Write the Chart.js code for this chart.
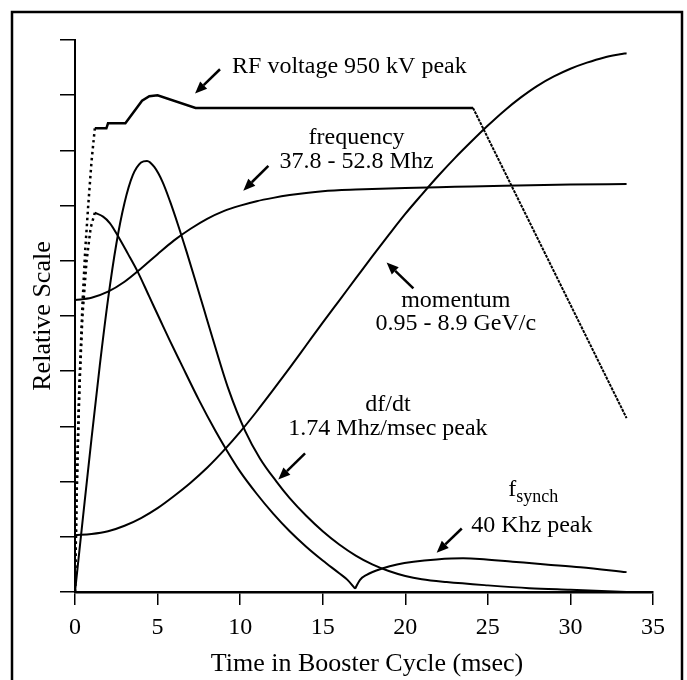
<!DOCTYPE html>
<html>
<head>
<meta charset="utf-8">
<script src="https://cdn.jsdelivr.net/npm/chart.js@4.4.1/dist/chart.umd.min.js"></script>
<style>
  html, body { margin: 0; padding: 0; background: #fff; }
  canvas { display: block; }
</style>
</head>
<body>
<canvas id="myChart" width="687" height="680"></canvas>
<script>
// time in msec, relative scale 0 - 10
const xTicks = [0, 5, 10, 15, 20, 25, 30, 35];
const yTicks = [0, 1, 2, 3, 4, 5, 6, 7, 8, 9, 10];

const rfT = [0, 0.08, 0.18, 0.3, 0.45, 0.62, 0.8, 1.0, 1.2, 1.9, 2.0, 3.05, 4.06, 4.5, 5.0, 7.3, 24.1, 33.4];
const rfV = [0, 1.5, 2.8, 4.0, 5.2, 6.2, 7.0, 7.8, 8.4, 8.4, 8.49, 8.49, 8.9, 8.98, 9.0, 8.77, 8.77, 3.15];

const freqT = [0, 1, 2, 3, 4, 5, 6, 7, 8, 9, 10, 11, 12, 13, 14, 15, 17, 20, 23, 26, 30, 33.4];
const freqV = [5.29, 5.33, 5.44, 5.62, 5.86, 6.12, 6.37, 6.58, 6.76, 6.9, 7.0, 7.08, 7.14, 7.19, 7.23, 7.26, 7.29, 7.32, 7.34, 7.36, 7.38, 7.39];

const momT = [0, 1, 2, 3, 4, 5, 6, 7, 8, 9, 10, 11, 12, 13, 14, 15, 16, 17, 18, 19, 20, 21, 22, 23, 24, 25, 26, 27, 28, 29, 30, 31, 32, 33, 33.4];
const momV = [1.03, 1.05, 1.1, 1.2, 1.34, 1.52, 1.74, 1.98, 2.25, 2.56, 2.9, 3.27, 3.66, 4.06, 4.47, 4.88, 5.28, 5.68, 6.08, 6.47, 6.85, 7.2, 7.54, 7.86, 8.16, 8.45, 8.72, 8.96, 9.17, 9.34, 9.48, 9.59, 9.68, 9.74, 9.76];

const dfdtT = [0, 0.5, 1.0, 1.5, 2.0, 2.5, 3.0, 3.5, 4.0, 4.36, 4.8, 5.3, 5.75, 6.25, 6.75, 7.25, 7.8, 8.36, 9.3, 10.3, 11.2, 12.2, 13, 14, 15, 16, 17, 18, 19, 20, 21, 22.5, 25, 27.5, 30, 33.4];
const dfdtV = [0, 1.4, 2.78, 4.1, 5.3, 6.3, 7.05, 7.55, 7.78, 7.81, 7.7, 7.43, 7.08, 6.64, 6.17, 5.68, 5.13, 4.57, 3.67, 2.92, 2.42, 2.0, 1.7, 1.38, 1.1, 0.86, 0.66, 0.5, 0.38, 0.29, 0.23, 0.18, 0.12, 0.07, 0.04, 0.0];

// f synch in three pieces: dotted rise, fall to transition, after transition
const fsRiseT = [0, 0.1, 0.25, 0.45, 0.7, 0.95, 1.2];
const fsRiseV = [0, 1.8, 3.6, 5.0, 6.0, 6.6, 6.87];
const fsFallT = [1.2, 1.7, 2.12, 2.6, 3.2, 3.8, 4.5, 5.2, 5.75, 6.4, 7.5, 8.5, 9.2, 10, 11, 12, 13, 14, 15, 16, 16.5, 16.96];
const fsFallV = [6.87, 6.8, 6.68, 6.45, 6.13, 5.8, 5.35, 4.9, 4.55, 4.15, 3.48, 2.92, 2.56, 2.18, 1.78, 1.42, 1.1, 0.82, 0.57, 0.34, 0.22, 0.06];
const fsAfterT = [16.96, 17.26, 17.66, 18.65, 19.5, 20.5, 21.9, 23.5, 24.5, 26.5, 28.5, 30.6, 33.4];
const fsAfterV = [0.06, 0.22, 0.31, 0.43, 0.5, 0.55, 0.59, 0.61, 0.6, 0.55, 0.5, 0.45, 0.36];

const serif = '"Liberation Serif", "Times New Roman", serif';

const pts = (t, v) => t.map((x, i) => ({ x: x, y: v[i] }));

const notes = [
    { text: 'RF voltage 950 kV peak', x: 9.51, y: 9.41, align: 'left' },
    { text: 'frequency', x: 17.05, y: 8.12 },
    { text: '37.8 - 52.8 Mhz', x: 17.05, y: 7.69 },
    { text: 'momentum', x: 23.06, y: 5.17 },
    { text: '0.95 - 8.9 GeV/c', x: 23.06, y: 4.75 },
    { text: 'df/dt', x: 18.95, y: 3.28 },
    { text: '1.74 Mhz/msec peak', x: 18.95, y: 2.84 },
    { text: '40 Khz peak', x: 27.66, y: 1.09 }
];

// tail x, tail y, tip x, tip y
const arrows = [
    [8.78, 9.47, 7.27, 9.03],
    [11.71, 7.72, 10.19, 7.27],
    [20.49, 5.5, 18.87, 5.97],
    [13.93, 2.51, 12.31, 2.04],
    [23.42, 1.15, 21.9, 0.71]
];

const extras = {
    id: 'extras',
    afterDraw(chart) {
        const { ctx, scales: { x, y } } = chart;
        ctx.save();
        ctx.strokeStyle = '#000';
        ctx.fillStyle = '#000';
        ctx.lineWidth = 2.5;
        ctx.strokeRect(12, 12, 670, 700);

        ctx.textBaseline = 'alphabetic';
        ctx.textAlign = 'center';
        ctx.font = '26px ' + serif;
        ctx.fillText('Time in Booster Cycle (msec)', 367, 671);

        ctx.save();
        ctx.translate(50, 316);
        ctx.rotate(-Math.PI / 2);
        ctx.fillText('Relative Scale', 0, 0);
        ctx.restore();

        ctx.font = '24px ' + serif;
        notes.forEach(n => {
            ctx.textAlign = n.align || 'center';
            ctx.fillText(n.text, x.getPixelForValue(n.x), y.getPixelForValue(n.y));
        });

        // f synch with subscript
        ctx.textAlign = 'left';
        const fx = x.getPixelForValue(26.24), fy = y.getPixelForValue(1.74);
        ctx.fillText('f', fx, fy);
        const fw = ctx.measureText('f').width;
        ctx.font = '18px ' + serif;
        ctx.fillText('synch', fx + fw, fy + 6);

        arrows.forEach(a => {
            const x0 = x.getPixelForValue(a[0]), y0 = y.getPixelForValue(a[1]);
            const x1 = x.getPixelForValue(a[2]), y1 = y.getPixelForValue(a[3]);
            const ang = Math.atan2(y1 - y0, x1 - x0);
            const hl = 12, hw = 5;
            const bx = x1 - hl * Math.cos(ang), by = y1 - hl * Math.sin(ang);
            ctx.lineWidth = 2.5;
            ctx.beginPath();
            ctx.moveTo(x0, y0);
            ctx.lineTo(bx, by);
            ctx.stroke();
            ctx.beginPath();
            ctx.moveTo(x1, y1);
            ctx.lineTo(bx + hw * Math.sin(ang), by - hw * Math.cos(ang));
            ctx.lineTo(bx - hw * Math.sin(ang), by + hw * Math.cos(ang));
            ctx.closePath();
            ctx.fill();
        });
        ctx.restore();
    }
};

const line = (data, extra) => Object.assign({
    data: data,
    borderColor: '#000',
    borderWidth: 2,
    pointRadius: 0,
    fill: false,
    cubicInterpolationMode: 'monotone'
}, extra);

const dotted = [2.5, 3.5];

const ctx = document.getElementById('myChart');

new Chart(ctx, {
    type: 'line',
    data: {
        datasets: [
            line(pts(rfT, rfV), {
                cubicInterpolationMode: 'default',
                tension: 0,
                borderWidth: 2.5,
                segment: {
                    borderDash: c => c.p0.parsed.x < 1.2 ? dotted : (c.p0.parsed.x >= 24.1 ? [3, 1] : undefined),
                    borderWidth: c => c.p0.parsed.x >= 24.1 ? 2 : undefined
                }
            }),
            line(pts(freqT, freqV)),
            line(pts(momT, momV)),
            line(pts(dfdtT, dfdtV)),
            line(pts(fsRiseT, fsRiseV), { cubicInterpolationMode: 'default', tension: 0, borderDash: dotted, borderWidth: 2.5 }),
            line(pts(fsFallT, fsFallV)),
            line(pts(fsAfterT, fsAfterV))
        ]
    },
    options: {
        responsive: false,
        animation: false,
        devicePixelRatio: 1,
        layout: {
            padding: { left: 0, top: 40, right: 34, bottom: 0 }
        },
        plugins: {
            legend: { display: false },
            tooltip: { enabled: false }
        },
        scales: {
            x: {
                type: 'linear',
                min: 0,
                max: 35,
                afterBuildTicks: s => { s.ticks = xTicks.map(v => ({ value: v })); },
                afterFit: s => { s.height = 88; },
                ticks: {
                    color: '#000',
                    font: { family: serif, size: 24 },
                    padding: 8,
                    maxRotation: 0
                },
                grid: {
                    drawOnChartArea: false,
                    color: '#000',
                    lineWidth: 1.5,
                    tickLength: 13
                },
                border: { color: '#000', width: 2.5 }
            },
            y: {
                min: 0,
                max: 10,
                afterBuildTicks: s => { s.ticks = yTicks.map(v => ({ value: v })); },
                afterFit: s => { s.width = 75; },
                ticks: { display: false },
                grid: {
                    drawOnChartArea: false,
                    color: '#000',
                    lineWidth: 1.5,
                    tickLength: 15
                },
                border: { color: '#000', width: 2 }
            }
        }
    },
    plugins: [extras]
});
</script>
</body>
</html>
